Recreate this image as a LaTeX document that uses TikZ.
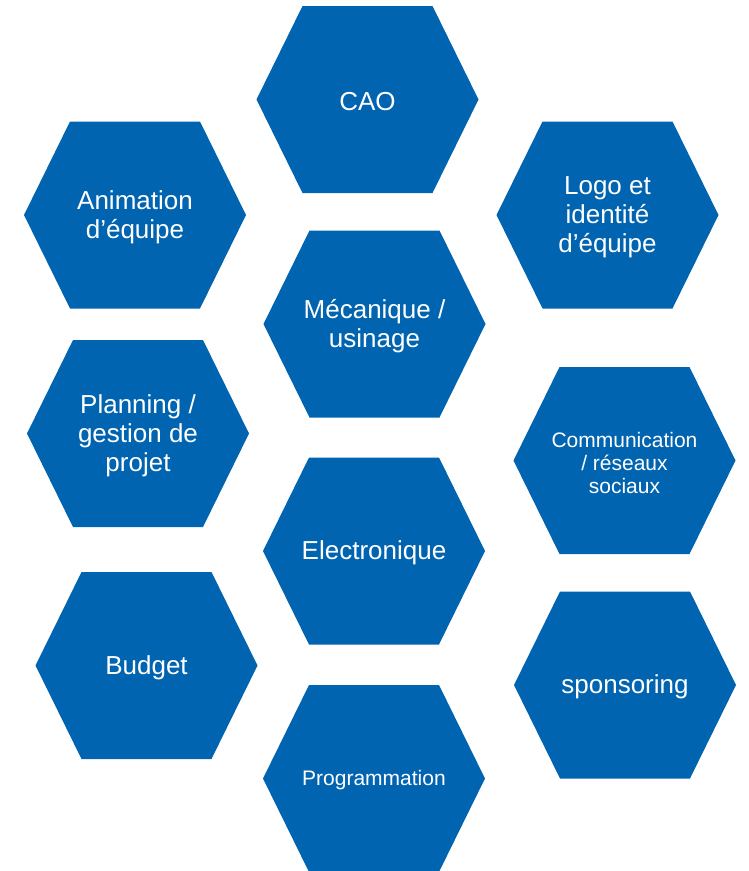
\documentclass[tikz,border=0pt]{standalone}
\usepackage{fontspec}
\setmainfont{Liberation Sans}
\definecolor{hexblue}{RGB}{0,100,176}
\tikzset{
  hexa/.style={fill=hexblue},
  hexlabel/.style={text=white, align=center, inner sep=0pt, yshift=-2pt, font=\fontsize{26}{29}\selectfont},
  smalllabel/.style={hexlabel, font=\fontsize{21}{23}\selectfont}
}
\begin{document}
\begin{tikzpicture}[x=1pt, y=-1pt]
                \useasboundingbox (0,0) rectangle (749,871);
                \foreach \n/\x/\y/\s/\t in {cao/367.5/99.5/hexlabel/{CAO},
                    anim/135/215/hexlabel/{Animation\\d’équipe},
                    logo/607.5/215/hexlabel/{Logo et\\identité\\d’équipe},
                    meca/374.5/324/hexlabel/{Mécanique /\\usinage},
                    plan/138/433.5/hexlabel/{Planning /\\gestion de\\projet},
                    comm/624.5/460.5/smalllabel/{Communication\\/ réseaux\\sociaux},
                    elec/374/551/hexlabel/{Electronique},
                    budget/146.5/665.5/hexlabel/{Budget},
                    spons/625/685/hexlabel/{sponsoring},
                    prog/374/778.5/smalllabel/{Programmation}} {
                    \fill[hexa] (\x,\y) ++(-111,0) -- ++(46,-93.5) -- ++(130,0) -- ++(46,93.5)
                        -- ++(-46,93.5) -- ++(-130,0) -- cycle;
                    \node[\s] (\n) at (\x,\y) {\t};
                }
            \end{tikzpicture}
\end{document}
